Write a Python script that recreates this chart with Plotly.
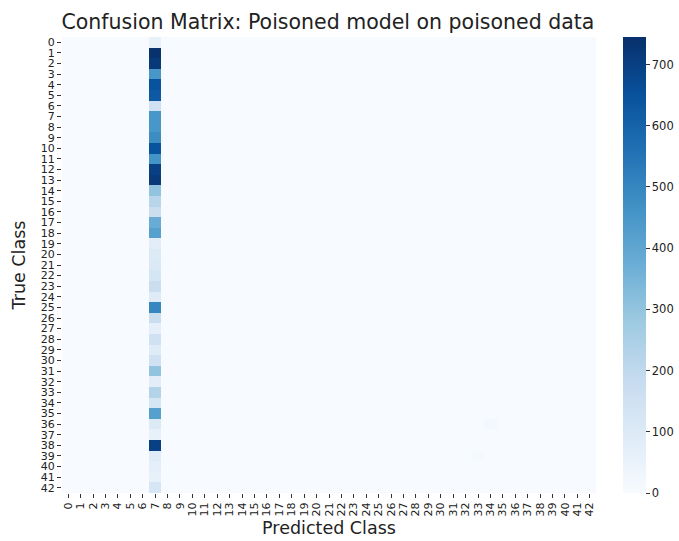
import numpy as np
import plotly.graph_objects as go

classes = list(range(43))
poison_col = 7
col7_counts = [60, 740, 720, 450, 650, 630, 150, 450, 450, 480,
               650, 460, 700, 720, 300, 220, 170, 380, 420, 80,
               100, 105, 130, 170, 90, 500, 170, 70, 150, 90,
               150, 300, 80, 230, 130, 420, 100, 60, 700, 90,
               70, 60, 120]
extra_cells = [(36, 34, 20), (39, 33, 12)]  # (true, predicted, count)

z = np.zeros((43, 43))
for i, v in enumerate(col7_counts):
    z[i, poison_col] = v
for r, c, v in extra_cells:
    z[r, c] = v

fig = go.Figure(go.Heatmap(
    z=z, x=classes, y=classes,
    colorscale="Blues", zmin=0, zmax=745,
    xgap=0, ygap=0,
    colorbar=dict(
        x=1.0506, xanchor="left", thickness=23, len=1, lenmode="fraction",
        y=0.5, yanchor="middle", outlinewidth=0, xpad=0, ypad=0,
        tickvals=[0, 100, 200, 300, 400, 500, 600, 700],
        ticks="outside", ticklen=4, tickcolor="#333",
        tickfont=dict(family="DejaVu Sans", size=11.5, color="#222"),
    ),
))

fig.update_layout(
    width=679, height=541,
    margin=dict(l=62, r=83, t=37, b=48, autoexpand=False),
    paper_bgcolor="white", plot_bgcolor="white",
    title=dict(text="Confusion Matrix: Poisoned model on poisoned data",
               x=0.483, xanchor="center", y=0.959, yanchor="middle",
               font=dict(family="DejaVu Sans", size=20.5, color="#222")),
    font=dict(family="DejaVu Sans", color="#222"),
)
fig.update_xaxes(
    tickmode="array", tickvals=classes, ticktext=[str(c) for c in classes],
    tickangle=-90, ticks="outside", ticklen=4, tickcolor="#333",
    tickfont=dict(size=11), showgrid=False, zeroline=False,
    title=dict(text="Predicted Class", font=dict(size=17.5), standoff=6),
    range=[-0.5, 42.5],
)
fig.update_yaxes(
    tickmode="array", tickvals=classes, ticktext=[str(c) for c in classes],
    ticks="outside", ticklen=4, tickcolor="#333",
    tickfont=dict(size=11), showgrid=False, zeroline=False,
    title=dict(text="True Class", font=dict(size=17.5), standoff=10),
    range=[42.5, -0.5],
)
fig.write_html("out.html")
